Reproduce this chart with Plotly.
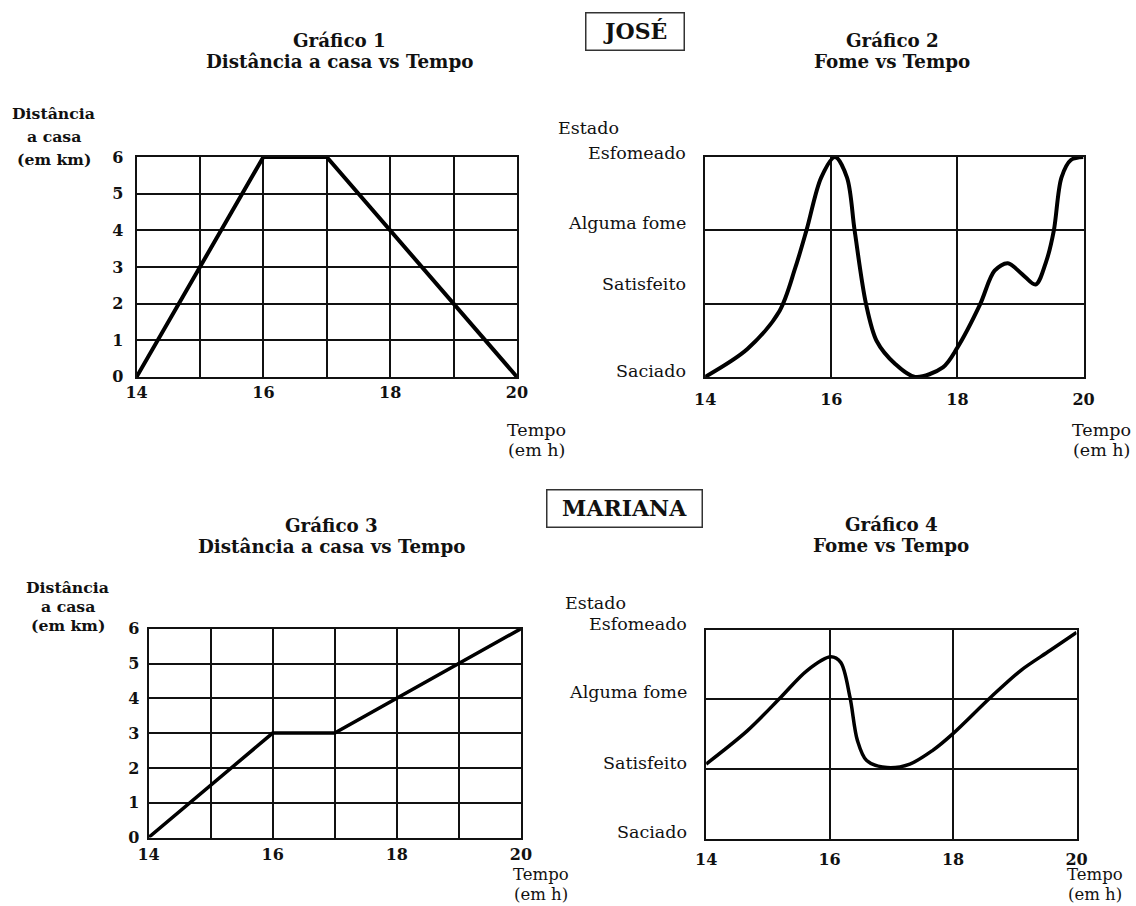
import plotly.graph_objects as go

# ---- data ----
hours_dist = [14, 16, 17, 20]
jose_dist = [0, 6, 6, 0]
mariana_dist = [0, 3, 3, 6]

hour_ticks = [14, 15, 16, 17, 18, 19, 20]
hour_ticktext = ["14", "", "16", "", "18", "", "20"]
km_ticks = [0, 1, 2, 3, 4, 5, 6]

hunger_levels = ["Saciado", "Satisfeito", "Alguma fome", "Esfomeado"]

jose_hunger_t = [14.0, 14.67, 15.18, 15.43, 15.61, 15.84, 16.06, 16.25, 16.37, 16.55,
                 16.72, 17.01, 17.33, 17.77, 18.0, 18.36, 18.59, 18.8, 19.03, 19.24,
                 19.41, 19.53, 19.65, 19.8, 20.0]
jose_hunger = [0.0, 0.38, 0.9, 1.49, 2.01, 2.72, 3.0, 2.72, 2.0, 1.0,
               0.49, 0.18, 0.0, 0.13, 0.4, 0.99, 1.45, 1.55, 1.4, 1.26,
               1.58, 2.0, 2.72, 2.96, 3.0]

mariana_hunger_t = [14.0, 14.67, 15.21, 15.63, 16.02, 16.18, 16.33, 16.45, 16.6, 16.93,
                    17.3, 17.66, 17.99, 18.61, 19.09, 19.57, 20.0]
mariana_hunger = [1.07, 1.55, 2.03, 2.41, 2.61, 2.53, 2.03, 1.41, 1.12, 1.02,
                  1.07, 1.26, 1.5, 2.03, 2.41, 2.7, 2.96]

# ---- page geometry ----
# layout positions below are given in view pixels; the page body keeps its 8px
# margin and the view shows the page slightly scaled down
PAGE_W, PAGE_H = 1136, 906
BODY = 8
SX = 1 / 0.985
SY = 1 / 0.98
W = int(round(PAGE_W * SX - BODY))
H = int(round(PAGE_H * SY - BODY))
SERIF = "DejaVu Serif"
INK = "#111111"


def px_x(p):
    return (p * SX - BODY) / W


def px_y(p):
    return 1 - (p * SY - BODY) / H


fig = go.Figure()

fig.add_trace(go.Scatter(x=hours_dist, y=jose_dist, mode="lines", xaxis="x", yaxis="y",
                         line=dict(color="black", width=4), cliponaxis=False))
fig.add_trace(go.Scatter(x=jose_hunger_t, y=jose_hunger, mode="lines", xaxis="x2", yaxis="y2",
                         line=dict(color="black", width=4, shape="spline", smoothing=0.9),
                         cliponaxis=False))
fig.add_trace(go.Scatter(x=hours_dist, y=mariana_dist, mode="lines", xaxis="x3", yaxis="y3",
                         line=dict(color="black", width=3.5), cliponaxis=False))
fig.add_trace(go.Scatter(x=mariana_hunger_t, y=mariana_hunger, mode="lines", xaxis="x4", yaxis="y4",
                         line=dict(color="black", width=3.5, shape="spline", smoothing=0.9),
                         cliponaxis=False))

frame = dict(showline=True, mirror=True, linecolor=INK, linewidth=2, zeroline=False,
             showgrid=True, gridcolor=INK, gridwidth=1.5, fixedrange=True)
tickfont = dict(family=SERIF, size=16, color=INK, weight="bold")


def xaxis(dom, tickvals, ticktext, gap, anchor):
    return dict(frame, domain=dom, range=[14, 20], tickvals=tickvals, ticktext=ticktext,
                tickfont=tickfont, ticks="outside", ticklen=gap, tickcolor="rgba(0,0,0,0)",
                anchor=anchor)


def yaxis_km(dom, anchor, gap):
    return dict(frame, domain=dom, range=[0, 6], tickvals=km_ticks, tickfont=tickfont,
                ticks="outside", ticklen=gap, tickcolor="rgba(0,0,0,0)", anchor=anchor)


def yaxis_hunger(dom, anchor):
    return dict(frame, domain=dom, range=[0, 3], tickvals=[0, 1, 2, 3], showticklabels=False,
                anchor=anchor)


d1x = [px_x(134), px_x(516)]
d1y = [px_y(376), px_y(156)]
d2x = [px_x(705), px_x(1085)]
d2y = [px_y(376), px_y(156)]
d3x = [px_x(146), px_x(520)]
d3y = [px_y(837), px_y(628)]
d4x = [px_x(706), px_x(1078)]
d4y = [px_y(838), px_y(629)]

fig.update_layout(
    width=W, height=H, margin=dict(l=0, r=0, t=0, b=0),
    paper_bgcolor="white", plot_bgcolor="white", showlegend=False,
    xaxis=xaxis(d1x, hour_ticks, hour_ticktext, 0, "y"),
    yaxis=yaxis_km(d1y, "x", 8),
    xaxis2=xaxis(d2x, [14, 16, 18, 20], ["14", "16", "18", "20"], 7, "y2"),
    yaxis2=yaxis_hunger(d2y, "x2"),
    xaxis3=xaxis(d3x, hour_ticks, hour_ticktext, 1, "y3"),
    yaxis3=yaxis_km(d3y, "x3", 4),
    xaxis4=xaxis(d4x, [14, 16, 18, 20], ["14", "16", "18", "20"], 5, "y4"),
    yaxis4=yaxis_hunger(d4y, "x4"),
)

ann = []


def text(x, y, s, size=15, bold=False, anchor="center"):
    ann.append(dict(x=px_x(x), y=px_y(y), xref="paper", yref="paper", text=f"<b>{s}</b>" if bold else s,
                    showarrow=False, xanchor=anchor, yanchor="middle",
                    font=dict(family=SERIF, size=size, color=INK)))


# name boxes
for name, cx, cy, bw, bh in [("JOSÉ", 635, 30, 94, 33), ("MARIANA", 624, 508, 150, 33)]:
    ann.append(dict(x=px_x(cx), y=px_y(cy), xref="paper", yref="paper", text=f"<b>{name}</b>",
                    showarrow=False, xanchor="center", yanchor="middle", width=bw * SX, height=bh * SY,
                    bordercolor="#333333", borderwidth=1.5, borderpad=1, bgcolor="white",
                    font=dict(family=SERIF, size=22, color=INK)))

# chart titles
for cx, cy, t1, t2 in [(338, 39, "Gráfico 1", "Distância a casa vs Tempo"),
                       (893, 39, "Gráfico 2", "Fome vs Tempo"),
                       (330, 525, "Gráfico 3", "Distância a casa vs Tempo"),
                       (892, 524, "Gráfico 4", "Fome vs Tempo")]:
    text(cx, cy, t1, size=18.3, bold=True)
    text(cx, cy + 21, t2, size=18.3, bold=True)

# distance axis titles
for cx, ys in [(51, (112, 135, 158)), (65, (587, 606, 625))]:
    for yy, s in zip(ys, ["Distância", "a casa", "(em km)"]):
        text(cx, yy, s, size=15.7, bold=True)

# time axis titles (the lower pair is a touch smaller to fit above the page edge)
for cx, ys, fs in [(536, (429, 449), 17.5), (1103, (429, 449), 17.5),
                   (540, (874, 894), 16.5), (1097, (874, 894), 16.5)]:
    text(cx, ys[0], "Tempo", size=fs)
    text(cx, ys[1], "(em h)", size=fs)

# hunger state labels
text(588, 127, "Estado", size=17.5)
text(595, 602, "Estado", size=17.5)
for axis_id, shifts in [("2", [6, 19, 7, 4]), ("4", [6, 6, 7, 6])]:
    for lvl, (lab, sh) in enumerate(zip(hunger_levels, shifts)):
        ann.append(dict(x=0, y=lvl, xref=f"x{axis_id} domain", yref=f"y{axis_id}", text=lab,
                        showarrow=False, xanchor="right", yanchor="middle", xshift=-17 * SX, yshift=sh * SY,
                        font=dict(family=SERIF, size=17.5, color=INK)))

fig.update_layout(annotations=ann)
fig.write_html("out.html")
